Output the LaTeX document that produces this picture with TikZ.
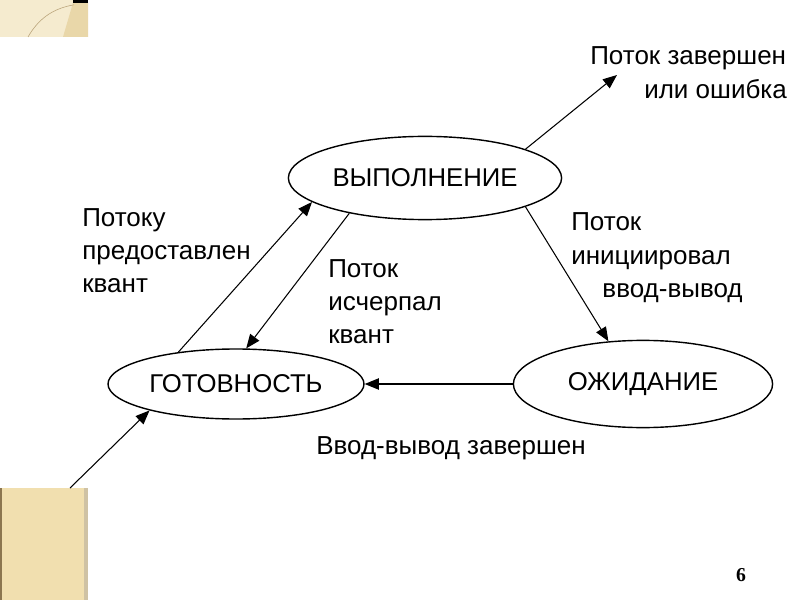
\documentclass[tikz,border=0pt]{standalone}
\usepackage{fontspec}
\setmainfont{Liberation Sans}
\newfontfamily\numfont{Liberation Serif}
\usetikzlibrary{shapes.geometric,arrows.meta}

\definecolor{decolight}{HTML}{F5EBCF}
\definecolor{decodark}{HTML}{E9D7A9}
\definecolor{decobox}{HTML}{F1DFAF}
\definecolor{decoedge}{HTML}{8C7650}
\definecolor{decoside}{HTML}{CFC2A4}
\definecolor{decoline}{HTML}{B8A278}

\begin{document}
\begin{tikzpicture}[
    state/.style={draw, ellipse, line width=1pt, inner sep=0pt, font=\fontsize{18.3}{22}\selectfont},
    lbl/.style={align=left, inner sep=0pt, font=\fontsize{18.5}{23.5}\selectfont},
    arr/.style={-{Triangle[length=10pt,width=8pt]}, line width=0.75pt}
]
        % 背景
        \fill[white] (0,0) rectangle (20,15);
        \useasboundingbox (0,0) rectangle (20,15);

        % 左上角装饰
        \fill[decolight] (0,14.075) rectangle (2.2,15);
        \fill[decodark] (1.575,14.075) -- (1.825,14.93) -- (2.2,14.93) -- (2.2,14.075) -- cycle;
        \fill[black] (1.825,14.93) rectangle (2.2,15);
        \draw[decoline, line width=0.4pt] (0.7,14.075) .. controls (1.0,14.6) and (1.4,14.8) .. (1.85,14.88);

        % 左下角装饰
        \fill[decobox] (0,0) rectangle (2.2,2.8);
        \fill[decoedge] (0,0) rectangle (0.06,2.8);
        \fill[decoside] (2.1,0) rectangle (2.2,2.8);

        % 三个状态
        \node[state, minimum width=6.83cm, minimum height=2.08cm] (run) at (10.625,10.55) {ВЫПОЛНЕНИЕ};
        \node[state, minimum width=6.4cm, minimum height=1.75cm] (ready) at (5.9,5.4) {ГОТОВНОСТЬ};
        \node[state, minimum width=6.48cm, minimum height=2.18cm] (wait) at (16.075,5.4) {ОЖИДАНИЕ};

        % 箭头的自由端
        \coordinate (entry) at (1.75,2.8);
        \coordinate (finish) at (15.425,13.125);

        % 箭头
        \draw[arr] (entry) -- (ready.197);
        \draw[arr] (ready.151) -- (run.192);
        \draw[arr] (run.205) -- (ready.74);
        \draw[arr] (run.344) -- (wait.129);
        \draw[arr] (wait.west) -- (ready.east);
        \draw[arr] (run.16) -- (finish);

        % 添加标签
        \node[lbl, anchor=north west] (grant) at (2.05,9.8) {Потоку\\предоставлен\\квант};
        \node[lbl, anchor=north west] (quant) at (8.2,8.52) {Поток\\исчерпал\\квант};
        \node[lbl, anchor=north west] (io) at (14.275,9.68) {Поток\\инициировал\\\hspace{0.78cm}ввод-вывод};
        \node[lbl, anchor=north west] (done) at (14.75,13.83) {Поток завершен\\\hspace{1.35cm}или ошибка};
        \node[lbl, anchor=north west] (iodone) at (7.9,4.1) {Ввод-вывод завершен};

        % 页码
        \node[font=\numfont\bfseries\fontsize{14}{16}\selectfont] (page) at (18.525,0.625) {6};
    \end{tikzpicture}
\end{document}
